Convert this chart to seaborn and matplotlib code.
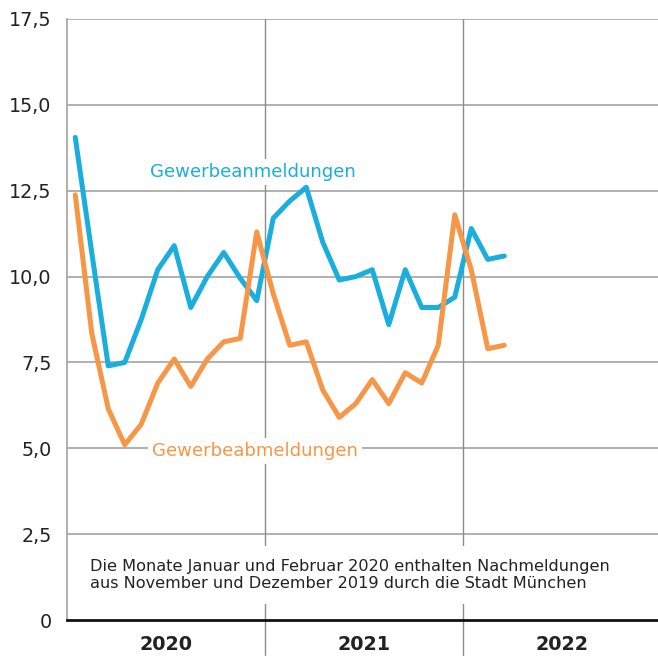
import numpy as np
import pandas as pd
import matplotlib
matplotlib.use("Agg")
import matplotlib.pyplot as plt
import seaborn as sns

# Monthly values Jan 2020 - Mar 2022 (in thousands)
months = pd.date_range("2020-01-01", "2022-03-01", freq="MS").strftime("%Y-%m").tolist()
anmeldungen = [14.05, 10.7, 7.4, 7.5, 8.75, 10.2, 10.9, 9.1, 10.0, 10.7, 9.95, 9.3,
               11.7, 12.2, 12.6, 11.0, 9.9, 10.0, 10.2, 8.6, 10.2, 9.1, 9.1, 9.4,
               11.4, 10.5, 10.6]
abmeldungen = [12.38, 8.35, 6.15, 5.1, 5.7, 6.9, 7.6, 6.8, 7.6, 8.1, 8.2, 11.3,
               9.5, 8.0, 8.1, 6.7, 5.9, 6.3, 7.0, 6.3, 7.2, 6.9, 8.0, 11.8,
               10.2, 7.9, 8.0]
years = ["2020", "2021", "2022"]
y_ticks = [0, 2.5, 5.0, 7.5, 10.0, 12.5, 15.0, 17.5]
y_labels = ["0", "2,5", "5,0", "7,5", "10,0", "12,5", "15,0", "17,5"]
note = ("Die Monate Januar und Februar 2020 enthalten Nachmeldungen\n"
        "aus November und Dezember 2019 durch die Stadt München")

BLUE = "#1aaede"
ORANGE = "#f79646"
GRID = "#a3a3a3"
TEXT = "#222222"

df = pd.DataFrame({
    "month": months * 2,
    "pos": list(np.arange(len(months)) + 0.5) * 2,
    "wert": anmeldungen + abmeldungen,
    "serie": ["Gewerbeanmeldungen"] * len(months) + ["Gewerbeabmeldungen"] * len(months),
})

sns.set_style("white")
plt.rcParams["font.family"] = ["DejaVu Sans"]

fig = plt.figure(figsize=(6.58, 6.60), dpi=100)
ax = fig.add_axes([67 / 658, 40 / 660, 1 - 67 / 658, 601 / 660])

# grid lines
for yt in y_ticks[1:]:
    ax.axhline(yt, color=GRID, lw=1.2, zorder=1)
for xb in [12, 24]:
    ax.axvline(xb, ymin=-0.058, ymax=1, color="#8c8c8c", lw=1.0, zorder=1, clip_on=False)

sns.lineplot(data=df, x="pos", y="wert", hue="serie",
             palette={"Gewerbeanmeldungen": BLUE, "Gewerbeabmeldungen": ORANGE},
             lw=3.6, legend=False, ax=ax, zorder=3)

ax.set_xlim(0, 591 / 16.5)
ax.set_ylim(0, 17.5)
ax.set_xlabel("")
ax.set_ylabel("")

ax.set_yticks(y_ticks)
ax.set_yticklabels(y_labels, fontsize=13.8, color=TEXT)
ax.tick_params(axis="y", length=0, pad=11)

ax.set_xticks([6, 18, 30])
ax.set_xticklabels(years, fontsize=13.8, fontweight="bold", color=TEXT)
ax.set_xticks([m for m in range(1, 36) if m not in (12, 24)], minor=True)
ax.tick_params(axis="x", which="major", length=0, pad=11)
ax.tick_params(axis="x", which="minor", direction="in", length=5, width=1.0, color=GRID)

for s in ["top", "right"]:
    ax.spines[s].set_visible(False)
ax.spines["left"].set_color(GRID)
ax.spines["left"].set_linewidth(1.2)
ax.spines["bottom"].set_color("#111111")
ax.spines["bottom"].set_linewidth(2.0)
ax.spines["bottom"].set_zorder(4)

ax.text(5.05, 13.05, "Gewerbeanmeldungen", color=BLUE, fontsize=13.1, va="center", ha="left",
        bbox=dict(fc="white", ec="none", pad=3), zorder=2)
ax.text(5.15, 4.92, "Gewerbeabmeldungen", color=ORANGE, fontsize=13.1, va="center", ha="left",
        bbox=dict(fc="white", ec="none", pad=3), zorder=2)
ax.text(1.4, 1.31, note, color=TEXT, fontsize=11.6, va="center", ha="left", linespacing=1.2,
        bbox=dict(fc="white", ec="none", pad=9), zorder=2)

fig.savefig("out.png", dpi=100)
